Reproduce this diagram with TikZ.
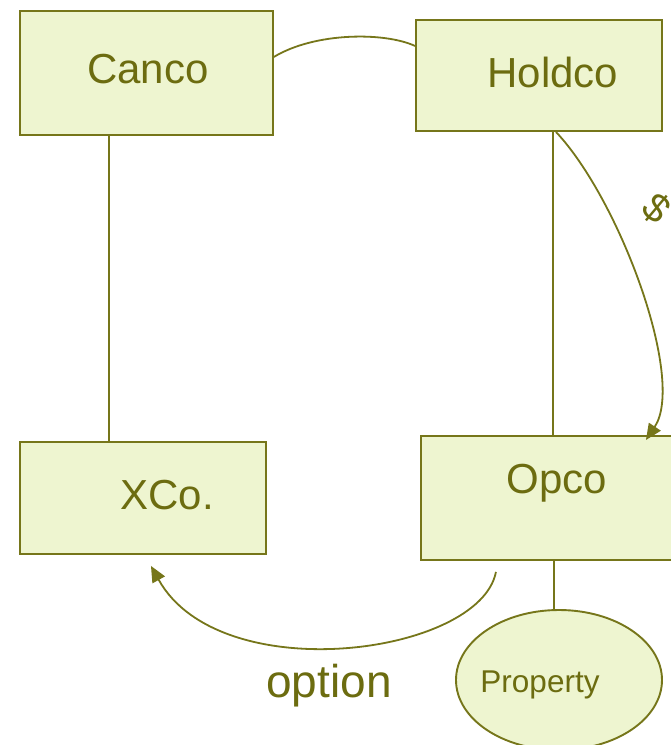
\documentclass[tikz,border=0pt]{standalone}
\usepackage{fontspec}
\setmainfont{Liberation Sans}
\usetikzlibrary{arrows.meta,shapes.geometric}
\definecolor{boxfill}{RGB}{238,245,208}
\definecolor{olivedraw}{RGB}{118,118,26}
\definecolor{olivetext}{RGB}{108,108,16}
\begin{document}
\begin{tikzpicture}[x=1pt,y=-1pt,
  box/.style={draw=olivedraw,fill=boxfill,line width=1.9pt,inner sep=0pt,anchor=north west},
  lbl/.style={text=olivetext,font=\fontsize{42}{42}\selectfont,inner sep=0pt,anchor=base},
  conn/.style={draw=olivedraw,line width=1.8pt},
  arr/.style={conn,-{Triangle[length=16pt,width=14pt]}}]
\clip (0,0) rectangle (671,745);
\fill[white] (0,0) rectangle (671,745);
% boxes
\node[box,minimum width=253pt,minimum height=124pt] (canco) at (19,10) {};
\node[box,minimum width=246pt,minimum height=111pt] (holdco) at (415,19) {};
\node[box,minimum width=246pt,minimum height=112pt] (xco) at (19,441) {};
\node[box,minimum width=262pt,minimum height=124pt] (opco) at (420,435) {};
\node[draw=olivedraw,fill=boxfill,line width=1.9pt,ellipse,inner sep=0pt,
      minimum width=206pt,minimum height=140pt] (prop) at (559,680) {};
% labels
\node[lbl] (canco-t) at (148,83) {Canco};
\node[lbl] (holdco-t) at (553,87.5) {Holdco};
\node[lbl] (xco-t) at (167,509.5) {XCo.};
\node[lbl] (opco-t) at (557,493) {Opco};
\node[lbl,font=\fontsize{31.5}{31.5}\selectfont] (prop-t) at (540,692) {Property};
\node[lbl,font=\fontsize{46}{46}\selectfont] (option-t) at (329,697) {option};
\node[text=olivetext,font=\fontsize{40}{40}\selectfont,inner sep=0pt,rotate=-40] (dollar-t) at (657,208) {\$};
% connectors
\draw[conn] ([xshift=-37.5pt]canco.south) -- ([xshift=-37.5pt]canco.south |- xco.north);
\draw[conn] ([xshift=14pt]holdco.south) -- ([xshift=14pt]holdco.south |- opco.north);
\draw[conn] ([xshift=2pt]opco.south) -- ([xshift=2pt]opco.south |- prop.north);
\draw[conn] ([yshift=16pt]canco.east) .. controls (315,32) and (385,32) .. ([yshift=29.5pt]holdco.west);
\draw[arr] ([xshift=17pt]holdco.south) .. controls (620,200) and (686,380) .. ([xshift=94pt,yshift=-5pt]opco.north);
\draw[arr] ([xshift=-56pt,yshift=-11pt]opco.south) .. controls (480,655) and (220,690) .. ([xshift=8pt,yshift=-11pt]xco.south);
\end{tikzpicture}
\end{document}
